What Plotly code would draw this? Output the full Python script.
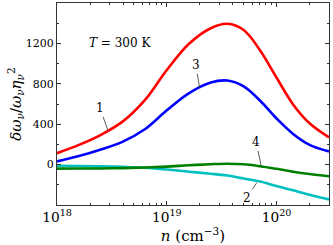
import plotly.graph_objects as go

# log10 of carrier density n (cm^-3)
log_n = [18.0, 18.2, 18.4, 18.6, 18.8, 19.0, 19.2, 19.4, 19.55, 19.7, 19.85, 20.0, 20.15, 20.3, 20.477]
n_vals = [10 ** v for v in log_n]

curve1 = [113, 195, 295, 428, 638, 936, 1194, 1350, 1394, 1332, 1130, 860, 596, 409, 270]
curve3 = [32, 85, 150, 228, 350, 537, 705, 812, 832, 775, 632, 456, 304, 196, 131]
curve2 = [-12, -14, -18, -23, -31, -48, -70, -90, -108, -138, -168, -212, -255, -298, -345]
curve4 = [-40, -39, -38, -35, -29, -20, -7, 4, 9, 4, -16, -42, -70, -93, -115]

y_major = [0, 400, 800, 1200]
y_minor = [-400, -200, 200, 600, 1000, 1400, 1600]

FONT = "DejaVu Serif"

fig = go.Figure()
series = [
    (curve1, "#ff0000"),
    (curve3, "#0000ff"),
    (curve2, "#00bfbf"),
    (curve4, "#008000"),
]
for ys, col in series:
    fig.add_trace(go.Scatter(x=n_vals, y=ys, mode="lines",
                             line=dict(color=col, width=2.6, shape="spline", smoothing=1.0),
                             showlegend=False, hoverinfo="skip"))

ann = dict(showarrow=True, arrowhead=0, arrowwidth=0.8, arrowcolor="#333",
           font=dict(family=FONT, size=12, color="black"), standoff=0)
fig.add_annotation(x=18.464, y=340, ax=-8, ay=-22, text="1", **ann)
fig.add_annotation(x=19.3, y=757, ax=-4, ay=-23, text="3", **ann)
fig.add_annotation(x=19.86, y=-18, ax=-5, ay=-24, text="4", **ann)
fig.add_annotation(x=19.82, y=-178, ax=-10, ay=15, text="2", **ann)
fig.add_annotation(x=18.573, y=1200, text="<i>T</i> = 300 K", showarrow=False,
                   font=dict(family=FONT, size=12, color="black"))

axis_common = dict(showline=True, linecolor="#333", linewidth=1, mirror="allticks",
                   ticks="inside", ticklen=4, tickcolor="#333", showgrid=False, zeroline=False,
                   automargin=False,
                   tickfont=dict(family=FONT, size=11, color="black"))

fig.update_xaxes(type="log", range=[18, 20.477], dtick=1, exponentformat="power",
                 minor=dict(ticks="inside", ticklen=2, dtick="D1", tickcolor="#333"),
                 title=dict(text="<i>n</i> (cm<sup>−3</sup>)", font=dict(family=FONT, size=15, color="black"),
                            standoff=0),
                 **axis_common)
fig.update_yaxes(range=[-400, 1600], tickvals=y_major,
                 minor=dict(ticks="inside", ticklen=2, tickvals=y_minor, tickcolor="#333"),
                 title=dict(text="<i>δω</i><sub><i>ν</i></sub>/<i>ω</i><sub><i>ν</i></sub><i>η</i><sub><i>ν</i></sub><sup>2</sup>",
                            font=dict(family=FONT, size=15, color="black"), standoff=0),
                 **axis_common)

fig.update_layout(width=333, height=245, margin=dict(l=57, r=4, t=3, b=40),
                  paper_bgcolor="white", plot_bgcolor="white")

fig.write_html("out.html", config={"displayModeBar": False},
               post_script="document.body.style.margin='0';")
